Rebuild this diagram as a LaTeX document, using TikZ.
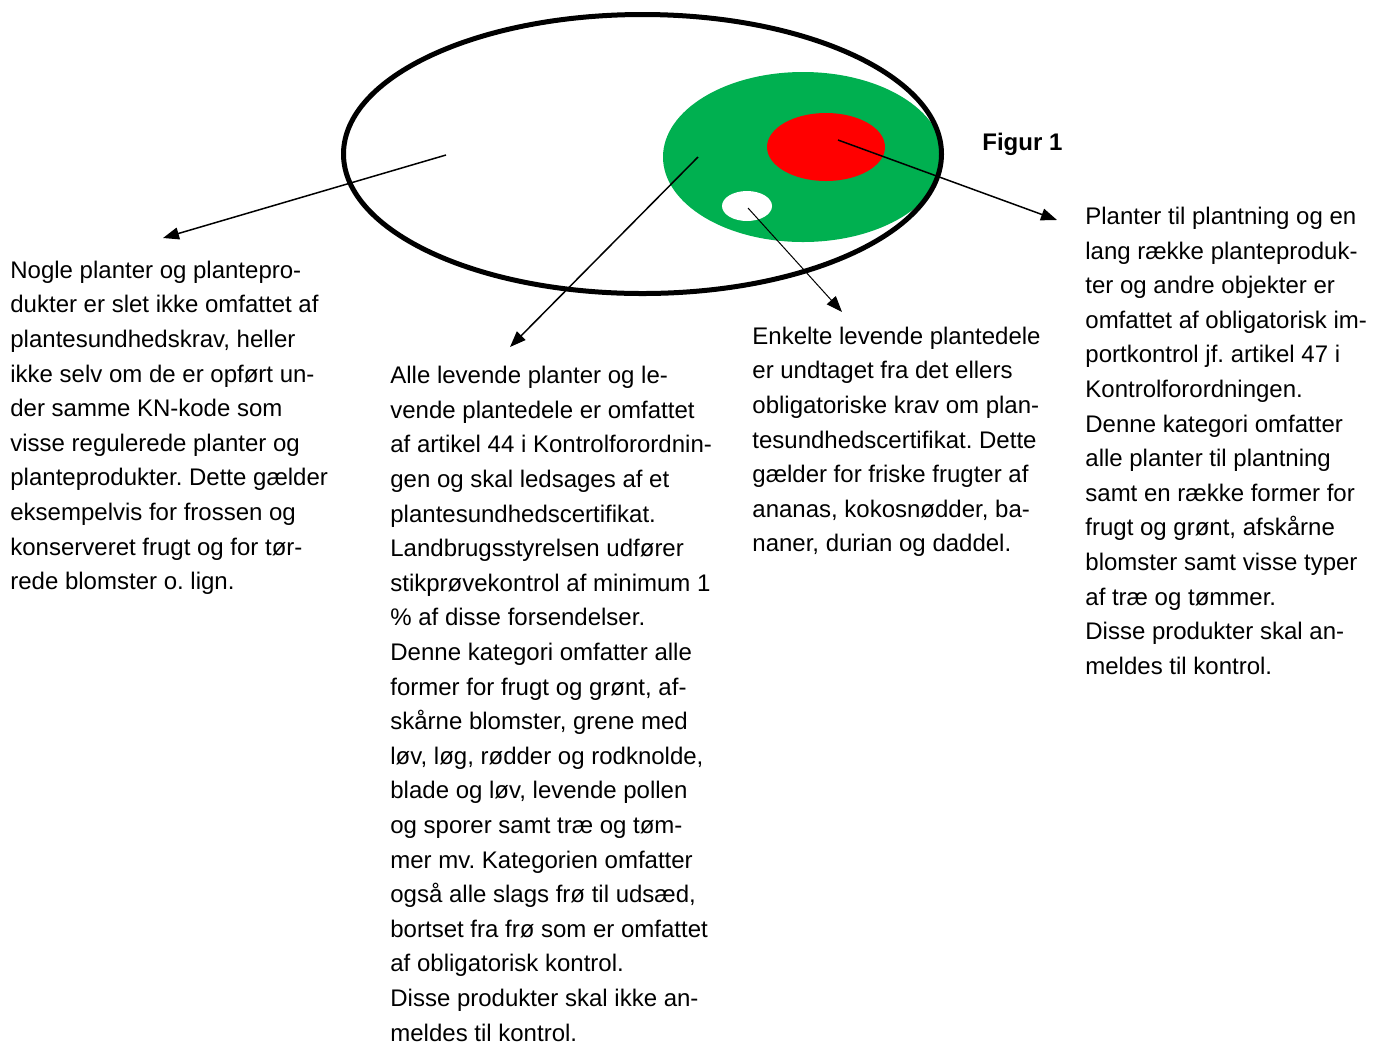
\documentclass[tikz,border=0pt]{standalone}
\usepackage{fontspec}
\setmainfont{Liberation Sans}
\usetikzlibrary{arrows.meta}
\definecolor{plantgreen}{RGB}{0,176,80}
\definecolor{plantred}{RGB}{255,0,0}
\frenchspacing
\tikzset{
  infotext/.style={anchor=base west, inner sep=0pt, align=left, font=\fontsize{12}{17.3}\selectfont},
  pointer/.style={-{Triangle[length=8pt,width=6pt]}, line width=0.75pt}
}

\begin{document}
\begin{tikzpicture}[x=0.5pt, y=-0.5pt]
\useasboundingbox (0,0) rectangle (1381,1046);

% Areas
\fill[plantgreen] (803,157) ellipse [x radius=140, y radius=85];
\fill[plantred] (826,147) ellipse [x radius=59, y radius=34];
\fill[white] (747,206) ellipse [x radius=25, y radius=15];
\draw[line width=2.5pt] (642.5,154) ellipse [x radius=299, y radius=139.5];

% Points inside the areas
\coordinate (outer) at (446,155);
\coordinate (green) at (698,157);
\coordinate (white) at (748,208);
\coordinate (red) at (838,140);

% Arrow ends
\coordinate (outer-end) at (163,238);
\coordinate (green-end) at (510,347);
\coordinate (white-end) at (842,312);
\coordinate (red-end) at (1057,220);

\node[infotext, font=\fontsize{12}{17.3}\selectfont\bfseries] (figur) at (982,150) {Figur 1};

% Texts (placed by the baseline of their last line)
\node[infotext] (nogle) at (10,589.7) {
Nogle planter og plantepro-\\
dukter er slet ikke omfattet af\\
plantesundhedskrav, heller\\
ikke selv om de er opført un-\\
der samme KN-kode som\\
visse regulerede planter og\\
planteprodukter. Dette gælder\\
eksempelvis for frossen og\\
konserveret frugt og for tør-\\
rede blomster o. lign.
};

\node[infotext] (alle) at (390,1041) {
Alle levende planter og le-\\
vende plantedele er omfattet\\
af artikel 44 i Kontrolforordnin-\\
gen og skal ledsages af et\\
plantesundhedscertifikat.\\
Landbrugsstyrelsen udfører\\
stikprøvekontrol af minimum 1\\
\% af disse forsendelser.\\
Denne kategori omfatter alle\\
former for frugt og grønt, af-\\
skårne blomster, grene med\\
løv, løg, rødder og rodknolde,\\
blade og løv, levende pollen\\
og sporer samt træ og tøm-\\
mer mv. Kategorien omfatter\\
også alle slags frø til udsæd,\\
bortset fra frø som er omfattet\\
af obligatorisk kontrol.\\
Disse produkter skal ikke an-\\
meldes til kontrol.
};

\node[infotext] (enkelte) at (752,551.8) {
Enkelte levende plantedele\\
er undtaget fra det ellers\\
obligatoriske krav om plan-\\
tesundhedscertifikat. Dette\\
gælder for friske frugter af\\
ananas, kokosnødder, ba-\\
naner, durian og daddel.
};

\node[infotext] (planter) at (1085,674.2) {
Planter til plantning og en\\
lang række planteproduk-\\
ter og andre objekter er\\
omfattet af obligatorisk im-\\
portkontrol jf. artikel 47 i\\
Kontrolforordningen.\\
Denne kategori omfatter\\
alle planter til plantning\\
samt en række former for\\
frugt og grønt, afskårne\\
blomster samt visse typer\\
af træ og tømmer.\\
Disse produkter skal an-\\
meldes til kontrol.
};

% Arrows
\draw[pointer] (outer) -- (outer-end);
\draw[pointer] (green) -- (green-end);
\draw[pointer, line width=0.5pt] (white) -- (white-end);
\draw[pointer] (red) -- (red-end);
\end{tikzpicture}
\end{document}
